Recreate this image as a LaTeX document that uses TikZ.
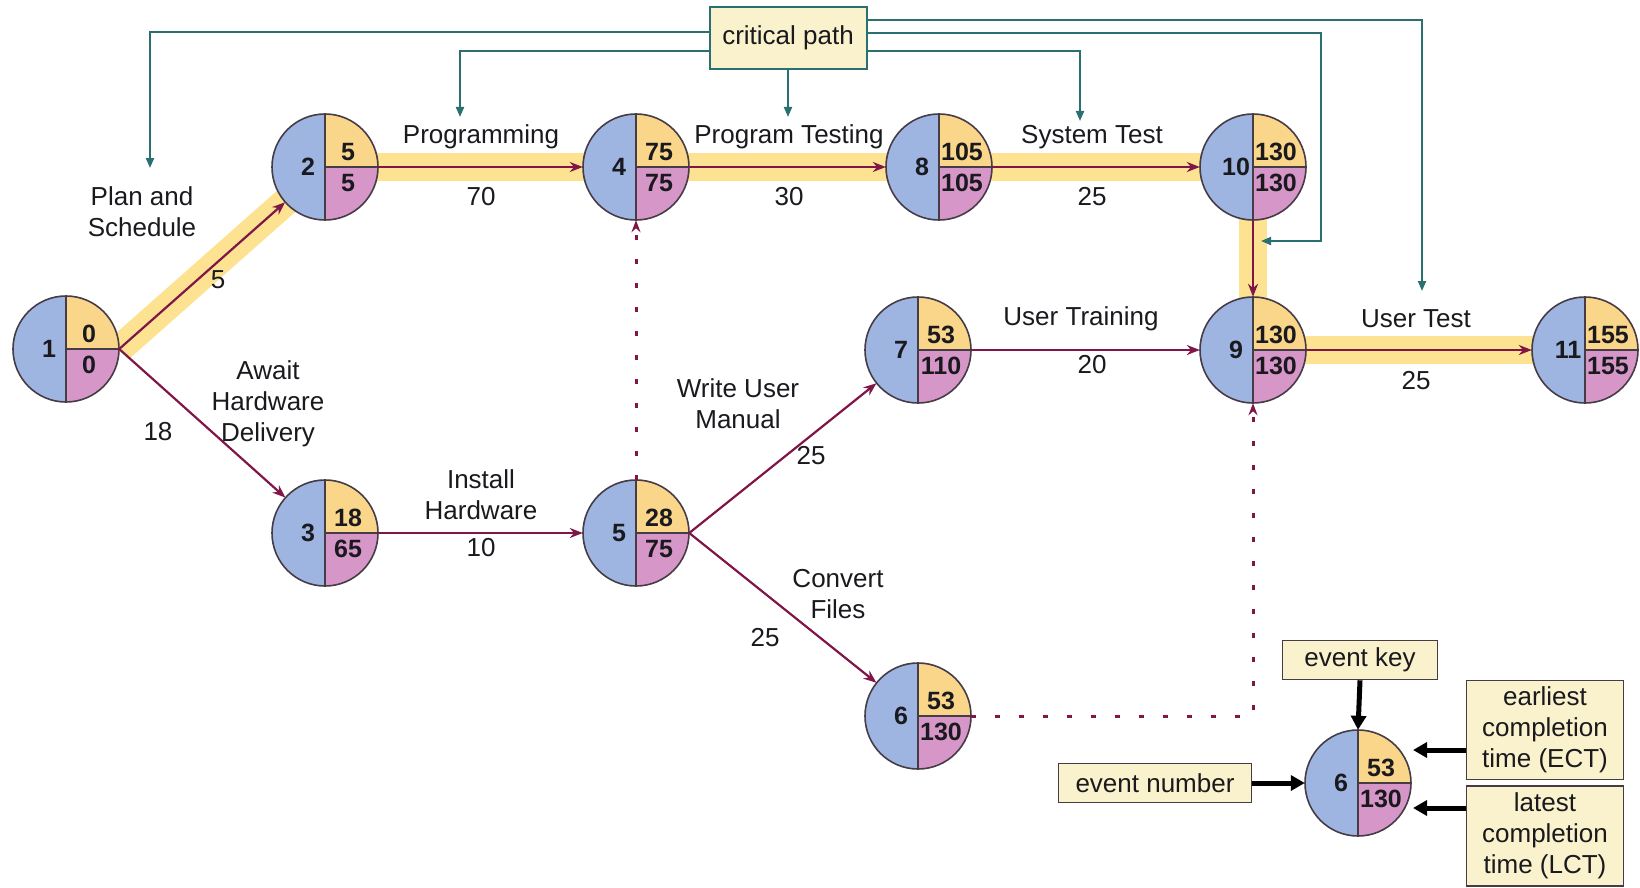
\documentclass[tikz,border=0pt]{standalone}
\usepackage{fontspec}
\setmainfont{Liberation Sans}
\usetikzlibrary{arrows.meta,calc}
\pgfdeclarelayer{bg}
\pgfsetlayers{bg,main}
\definecolor{cblue}{RGB}{158,181,226}
\definecolor{cyel}{RGB}{250,214,138}
\definecolor{cpink}{RGB}{214,150,200}
\definecolor{ringc}{RGB}{70,60,70}
\definecolor{edgec}{RGB}{128,22,72}
\definecolor{tealc}{RGB}{42,112,112}
\definecolor{bandc}{RGB}{252,226,145}
\definecolor{boxf}{RGB}{250,242,204}
\definecolor{txtc}{RGB}{25,25,30}
\tikzset{
  evc/.style={circle,minimum size=106pt,inner sep=0pt},
  ring/.style={draw=ringc,line width=1.6pt},
  numl/.style={font=\fontsize{25}{30}\selectfont\bfseries,text=txtc,inner sep=0pt},
  lbl/.style={font=\fontsize{26}{31}\selectfont,text=txtc,align=center,inner sep=0pt},
  conn/.style={draw=edgec,line width=2.2pt,-{Stealth[length=13pt,width=10pt]}},
  band/.style={draw=bandc,line width=28pt},
  dotl/.style={draw=edgec,line width=3pt,dash pattern=on 5pt off 19pt,-{Stealth[length=12pt,width=9pt]}},
  tl/.style={draw=tealc,line width=2pt},
  tla/.style={tl,-{Triangle[length=10pt,width=8pt]}},
  cbox/.style={draw=tealc,fill=boxf,line width=2pt,inner sep=0pt,font=\fontsize{26}{31}\selectfont,text=txtc},
  kbox/.style={draw=ringc,fill=boxf,line width=1.6pt,inner sep=0pt,font=\fontsize{26}{31}\selectfont,text=txtc,align=center},
  karr/.style={draw=black,line width=5pt,-{Triangle[length=14pt,width=15pt]}},
}
\newcommand\evt[6]{%
  \node[evc] (#1) at (#2,#3) {};
  \begin{scope}
    \clip (#1) circle[radius=53];
    \fill[cblue] ($(#1)+(-53,-53)$) rectangle ($(#1)+(0,53)$);
    \fill[cyel] ($(#1)+(0,-53)$) rectangle ($(#1)+(53,0)$);
    \fill[cpink] (#1.center) rectangle ($(#1)+(53,53)$);
  \end{scope}
  \draw[ring] (#1) circle[radius=53];
  \draw[ring] (#1.north) -- (#1.south) (#1.center) -- (#1.east);
  \node[numl] at ($(#1)+(-17,0)$) {#4};
  \node[numl] at ($(#1)+(23,-15)$) {#5};
  \node[numl] at ($(#1)+(23,16)$) {#6};
}
\begin{document}
\begin{tikzpicture}[x=1pt,y=-1pt]
\useasboundingbox (0,0) rectangle (1640,888);
% events
\evt{n1}{66}{349}{1}{0}{0}
\evt{n2}{325}{167}{2}{5}{5}
\evt{n4}{636}{167}{4}{75}{75}
\evt{n8}{939}{167}{8}{105}{105}
\evt{n10}{1253}{167}{10}{130}{130}
\evt{n3}{325}{533}{3}{18}{65}
\evt{n5}{636}{533}{5}{28}{75}
\evt{n7}{918}{350}{7}{53}{110}
\evt{n9}{1253}{350}{9}{130}{130}
\evt{n11}{1585}{350}{11}{155}{155}
\evt{n6}{918}{716}{6}{53}{130}
\evt{k6}{1358}{783}{6}{53}{130}
% critical path bands
\begin{pgfonlayer}{bg}
\draw[band] (n1.east) -- (n2.center);
\draw[band] (n2.center) -- (n10.center);
\draw[band] (n10.center) -- (n9.center);
\draw[band] (n9.center) -- (n11.center);
\end{pgfonlayer}
% activities
\draw[conn] (n1.east) -- (n2);
\draw[conn] (n2) -- (n4);
\draw[conn] (n4) -- (n8);
\draw[conn] (n8) -- (n10);
\draw[conn] (n10) -- (n9);
\draw[conn] (n9) -- (n11);
\draw[conn] (n1.east) -- (n3);
\draw[conn] (n3) -- (n5);
\draw[conn] (n5.east) -- (n7);
\draw[conn] (n5.east) -- (n6);
\draw[conn] (n7) -- (n9);
\draw[dotl] (n5.north) -- (n4.south);
\coordinate (dc) at (n9 |- n6);
\draw[dotl] (n6.east) -- (dc) -- (n9.south);
% labels
\node[lbl] (lps) at (142,212) {Plan and\\Schedule};
\node[lbl] (l5) at (218,280) {5};
\node[lbl] (lprog) at (481,137) {Programming};
\node[lbl] (l70) at (481,197) {70};
\node[lbl] (lpt) at (789,137) {Program Testing};
\node[lbl] (l30) at (789,197) {30};
\node[lbl] (lst) at (1092,137) {System Test};
\node[lbl] (l25a) at (1092,197) {25};
\node[lbl] (lut) at (1081,319) {User Training};
\node[lbl] (l20) at (1092,365) {20};
\node[lbl] (lutest) at (1416,319) {User Test};
\node[lbl] (l25b) at (1416,381) {25};
\node[lbl] (lahd) at (268,404) {Await\\Hardware\\Delivery};
\node[lbl] (l18) at (158,432) {18};
\node[lbl] (lih) at (481,495) {Install\\Hardware};
\node[lbl] (l10) at (481,548) {10};
\node[lbl] (lwum) at (738,404) {Write User\\Manual};
\node[lbl] (l25c) at (811,456) {25};
\node[lbl] (lcf) at (838,594) {Convert\\Files};
\node[lbl] (l25d) at (765,638) {25};
% critical path callout
\node[cbox,minimum width=157pt,minimum height=62pt] (cp) at (788,38) {critical path};
\coordinate (t1) at (150,168);
\coordinate (t2) at (460,117);
\coordinate (t3) at (788,117);
\coordinate (t4) at (1080,121);
\coordinate (t5a) at (1321,241);
\coordinate (t5) at (1261,241);
\coordinate (t6) at (1422,291);
\draw[tla] ($(cp.west)+(0,-6)$) -| (t1);
\draw[tla] ($(cp.west)+(0,13)$) -| (t2);
\draw[tla] (cp.south) -- (t3);
\draw[tla] ($(cp.east)+(0,13)$) -| (t4);
\draw[tla] ($(cp.east)+(0,-5)$) -| (t5a) -- (t5);
\draw[tla] ($(cp.east)+(0,-18)$) -| (t6);
% key
\node[kbox,minimum width=155pt,minimum height=39pt] (ek) at (1360,660) {event key};
\node[kbox,minimum width=193pt,minimum height=39pt] (en) at (1155,783) {event number};
\node[kbox,minimum width=157pt,minimum height=99pt] (ect) at (1545,730) {earliest\\completion\\time (ECT)};
\node[kbox,minimum width=157pt,minimum height=100pt] (lct) at (1545,836) {latest\\completion\\time (LCT)};
\draw[karr] (ek.south) -- (k6.north);
\draw[karr] (en.east) -- (k6.west);
\coordinate (ea) at (1413,750);
\coordinate (la) at (1413,808);
\draw[karr] (ect.west |- ea) -- (ea);
\draw[karr] (lct.west |- la) -- (la);
\end{tikzpicture}
\end{document}
